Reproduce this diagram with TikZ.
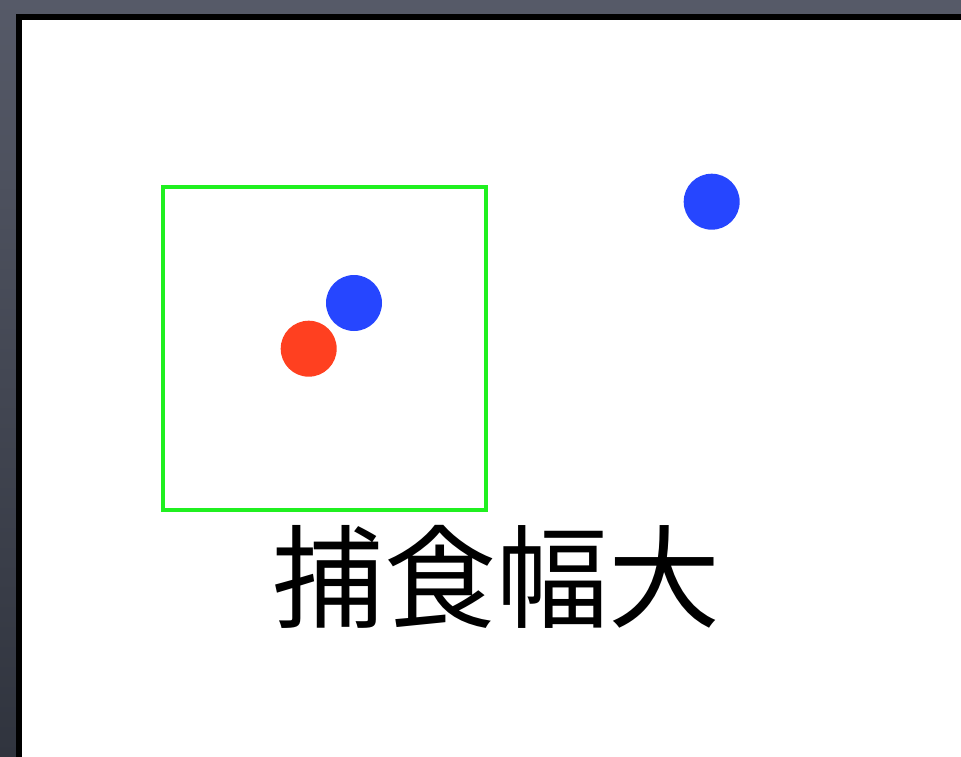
\documentclass[tikz,border=0pt]{standalone}
\usepackage{fontspec}
\newfontfamily\cjk{Noto Sans CJK JP}
\definecolor{bgtop}{RGB}{86,90,104}
\definecolor{bgbot}{RGB}{48,52,62}
\definecolor{dotblue}{RGB}{38,70,255}
\definecolor{dotred}{RGB}{255,64,32}
\definecolor{boxgreen}{RGB}{32,240,32}
\tikzset{
  dot/.style={circle,inner sep=0pt,minimum size=56pt},
  panel/.style={fill=white,draw=black,line width=6pt},
  zone/.style={draw=boxgreen,line width=4pt},
  caption/.style={font=\cjk\fontsize{112}{112}\selectfont,inner sep=0pt}
}
\begin{document}
\begin{tikzpicture}[x=1pt,y=-1pt]
\useasboundingbox (0,0) rectangle (961,756);
\shade[top color=bgtop,bottom color=bgbot] (0,0) rectangle (961,756);
\draw[panel] (19,17) rectangle (990,790);
\draw[zone] (163,187) rectangle (485.5,509.5);
\node[dot,fill=dotblue] (b1) at (354,303) {};
\node[dot,fill=dotred] (r1) at (308.7,348.7) {};
\node[dot,fill=dotblue] (b2) at (711.7,201.7) {};
\node[caption] (t) at (496,576.5) {捕食幅大};
\end{tikzpicture}
\end{document}
